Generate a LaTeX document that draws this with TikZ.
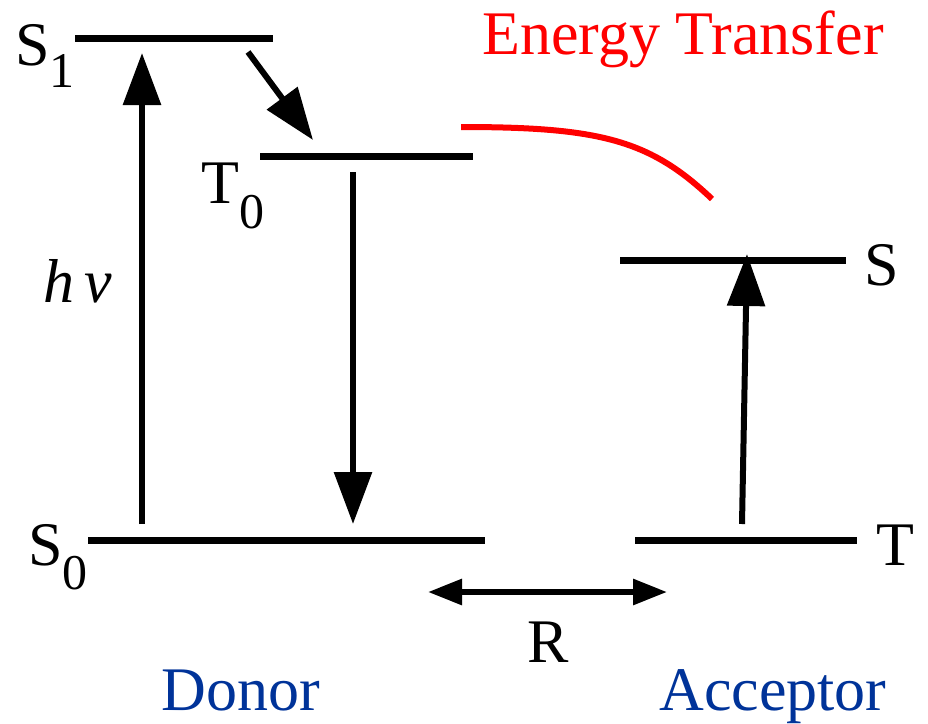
\documentclass[tikz,border=0pt]{standalone}
\usepackage{fontspec}
\setmainfont{LiberationSerif}[Extension=.ttf,UprightFont=*-Regular,ItalicFont=*-Italic,BoldFont=*-Bold]
\usetikzlibrary{arrows.meta}
\definecolor{ink}{RGB}{0,0,0}
\definecolor{flame}{RGB}{255,0,0}
\definecolor{navy}{RGB}{0,51,153}
\newcommand\lvlname[3]{#1\raisebox{-#3pt}{\fontsize{50}{50}\selectfont #2}}
\tikzset{
  level/.style={draw=ink,line width=7pt},
  jump/.style={draw=ink,line width=6pt,-{Triangle[length=52pt,width=37pt]}},
  dist/.style={draw=ink,line width=6pt,{Triangle[length=34pt,width=25pt]}-{Triangle[length=34pt,width=25pt]}},
  transfer/.style={draw=flame,line width=6pt},
  lab/.style={font=\rmfamily\fontsize{62}{62}\selectfont,inner sep=0pt,anchor=base west,text=#1},
  lab/.default=ink,
}
\begin{document}
\begin{tikzpicture}[x=1pt,y=-1pt]
  \useasboundingbox (0,0) rectangle (928,723);
  % donor levels
  \draw[level] (75,38) coordinate (s1a) -- (273,38) coordinate (s1b);
  \draw[level] (260,156) coordinate (t0a) -- (473,156) coordinate (t0b);
  \draw[level] (88,540) coordinate (s0a) -- (485,540) coordinate (s0b);
  % acceptor levels
  \draw[level] (620,260) coordinate (sa) -- (846,260) coordinate (sb);
  \draw[level] (635,540) coordinate (ta) -- (857,540) coordinate (tb);
  % transitions
  \coordinate (hvlow) at (142,524);
  \coordinate (hvtop) at (142,53);
  \coordinate (iscfrom) at (248,52);
  \coordinate (iscto) at (313,140);
  \coordinate (emfrom) at (353,172);
  \coordinate (emto) at (353,524);
  \coordinate (aclow) at (742,524);
  \coordinate (actop) at (747,254);
  \draw[jump] (hvlow) -- (hvtop);
  \draw[jump] (iscfrom) -- (iscto);
  \draw[jump] (emfrom) -- (emto);
  \draw[jump] (aclow) -- (actop);
  \coordinate (etfrom) at (461,127);
  \coordinate (etto) at (712,199);
  \draw[transfer] (etfrom) .. controls (600,127) and (650,140) .. (etto);
  \coordinate (rl) at (428,592);
  \coordinate (rr) at (667,592);
  \draw[dist] (rl) -- (rr);
  % labels
  \node[lab] (S1) at (15,65) {\lvlname{S}{1}{22}};
  \node[lab] (T0) at (201,203) {\lvlname{T}{0}{25}};
  \node[lab] (S0) at (28,565) {\lvlname{S}{0}{24}};
  \node[lab] (Sacc) at (864,285) {S};
  \node[lab] (Tacc) at (876,565) {T};
  \node[lab] (hv) at (43,302) {\textit{h\,ν}};
  \node[lab,anchor=base] (R) at (548,662) {R};
  \node[lab=flame,anchor=base] (ET) at (683,54) {Energy Transfer};
  \node[lab=navy,anchor=base] (don) at (241,710) {Donor};
  \node[lab=navy,anchor=base] (acc) at (773,710) {Acceptor};
\end{tikzpicture}
\end{document}
